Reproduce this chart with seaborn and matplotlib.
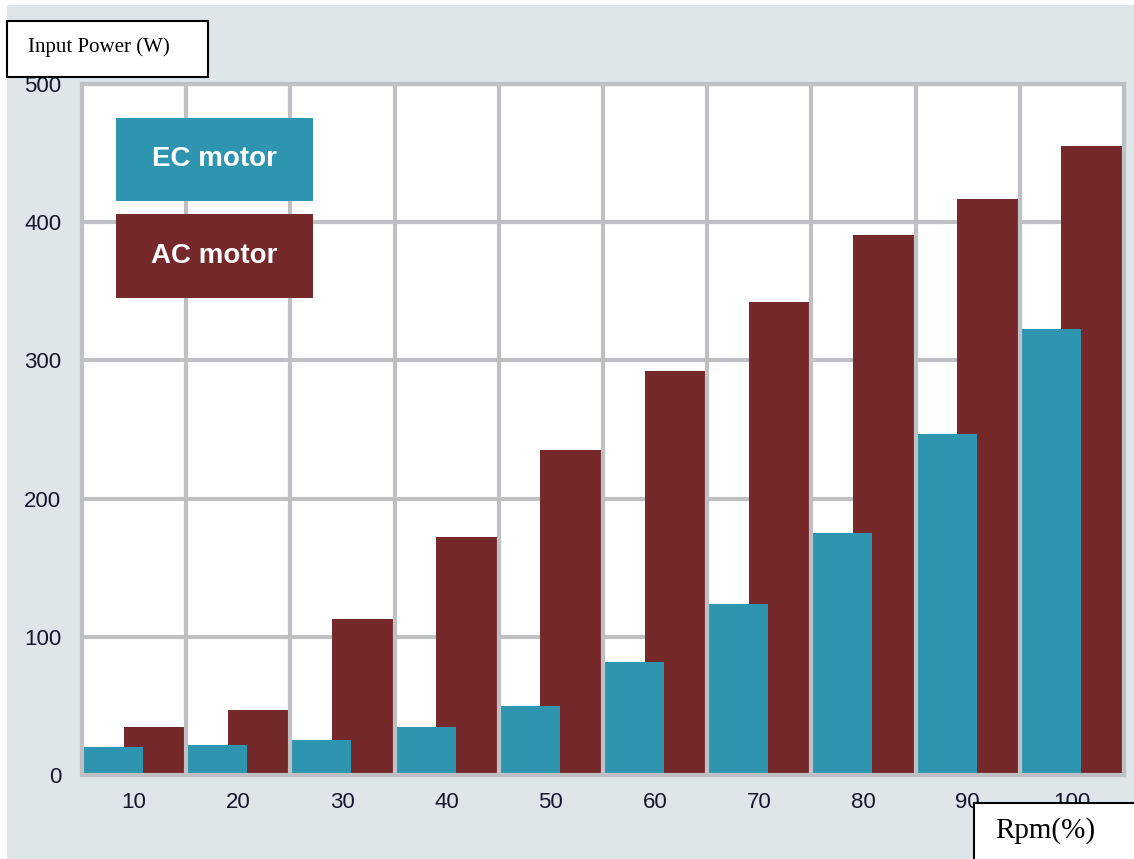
import matplotlib
matplotlib.use("Agg")
import matplotlib.pyplot as plt
from matplotlib.patches import Rectangle
import seaborn as sns
import pandas as pd

# ---- data ----
rpm = [10, 20, 30, 40, 50, 60, 70, 80, 90, 100]
ec_power = [20, 22, 25, 35, 50, 82, 124, 175, 247, 323]
ac_power = [35, 47, 113, 172, 235, 292, 342, 391, 417, 455]
y_ticks = [0, 100, 200, 300, 400, 500]
series_names = ["EC motor", "AC motor"]
y_label = "Input Power (W)"
x_label = "Rpm(%)"

# ---- styles ----
TEAL = "#2e95b0"
MAROON = "#76292b"
BG = "#dfe6ea"
GRID = "#bfc0c4"
TXT = "#15172a"
SANS = ["Liberation Sans Narrow", "Liberation Sans", "DejaVu Sans"]
SERIF = ["Liberation Serif", "DejaVu Serif"]

sns.set_style("white")

W, H = 1134, 859
fig = plt.figure(figsize=(W / 100, H / 100), dpi=100)
fig.patch.set_facecolor("white")
fig.patches.append(Rectangle((7 / W, 0), 1, 1 - 5 / H, transform=fig.transFigure,
                             facecolor=BG, edgecolor="none", zorder=-10))

ax = fig.add_axes([82 / W, 1 - 775 / H, (1124 - 82) / W, (775 - 84) / H])
ax.set_facecolor("white")

df_ec = pd.DataFrame({"pos": [r - 2.075 for r in rpm], "power": ec_power})
df_ac = pd.DataFrame({"pos": [r + 2.0 for r in rpm], "power": ac_power})

sns.barplot(data=df_ac, x="pos", y="power", native_scale=True, orient="x",
            width=0.6, color=MAROON, saturation=1, edgecolor="none",
            ax=ax, zorder=3)
sns.barplot(data=df_ec, x="pos", y="power", native_scale=True, orient="x",
            width=0.585, color=TEAL, saturation=1, edgecolor="none",
            ax=ax, zorder=4)

ax.set_xlim(5, 105)
ax.set_ylim(0, 500)
ax.set_yticks(y_ticks)
ax.set_yticklabels([str(v) for v in y_ticks], family=SANS, fontsize=16, color=TXT)
ax.set_xticks(rpm)
ax.set_xticklabels([str(v) for v in rpm], family=SANS, fontsize=16, color=TXT)
ax.tick_params(axis="both", which="both", length=0)
ax.tick_params(axis="y", pad=15)
ax.tick_params(axis="x", pad=12)
ax.set_xlabel("")
ax.set_ylabel("")

ax.grid(False)
ax.grid(True, axis="y", which="major", color=GRID, linewidth=3, zorder=1)
ax.set_axisbelow(True)
# vertical category separators drawn above the bars
for r in rpm[1:]:
    ax.axvline(r - 5, color=GRID, linewidth=3, zorder=6)
for s in ax.spines.values():
    s.set_visible(True)
    s.set_color(GRID)
    s.set_linewidth(3)
    s.set_zorder(7)

# legend boxes
def legend_box(y_top, y_bot, color, label):
    x0, x1 = 116, 313
    ax.add_patch(Rectangle((x0 / W, 1 - y_bot / H), (x1 - x0) / W, (y_bot - y_top) / H,
                           transform=fig.transFigure, facecolor=color,
                           edgecolor="none", zorder=10, clip_on=False))
    fig.text((x0 + x1) / 2 / W, 1 - (y_top + y_bot) / 2 / H, label,
             ha="center", va="center", color="white", fontsize=20,
             fontweight="bold", family=SANS, zorder=11)

legend_box(118, 201, TEAL, series_names[0])
legend_box(214, 298, MAROON, series_names[1])

# axis title boxes
fig.patches.append(Rectangle((7 / W, 1 - 77 / H), 201 / W, 56 / H,
                             transform=fig.transFigure, facecolor="white",
                             edgecolor="black", linewidth=1.5, zorder=20))
fig.text(28 / W, 1 - 47 / H, y_label, ha="left", va="center",
         family=SERIF, fontsize=15, color="black", zorder=21)

fig.patches.append(Rectangle((974 / W, 1 - 862 / H), 170 / W, 59 / H,
                             transform=fig.transFigure, facecolor="white",
                             edgecolor="black", linewidth=1.5, zorder=20))
fig.text(995 / W, 1 - 831 / H, x_label, ha="left", va="center",
         family=SERIF, fontsize=21, color="black", zorder=21)

fig.savefig("out.png", dpi=100)
